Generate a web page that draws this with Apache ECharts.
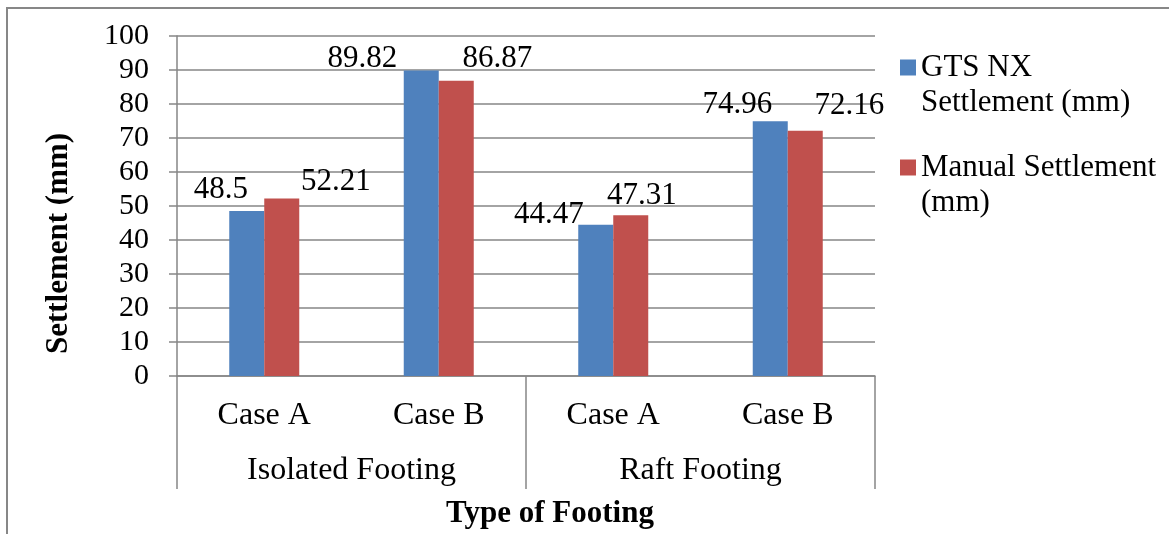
<!DOCTYPE html>
<html>
<head>
<meta charset="utf-8">
<script src="https://cdn.jsdelivr.net/npm/echarts@6/dist/echarts.min.js"></script>
<style>
html,body{margin:0;padding:0;background:#fff;}
#chart{width:1169px;height:534px;}
</style>
</head>
<body>
<div id="chart"></div>
<script>
// ---- data ----
const cases = ['Case A', 'Case B', 'Case A', 'Case B'];
const groups = ['Isolated Footing', 'Raft Footing'];
const seriesNames = ['GTS NX\nSettlement (mm)', 'Manual Settlement\n(mm)'];
const gtsValues = [48.5, 89.82, 44.47, 74.96];
const manualValues = [52.21, 86.87, 47.31, 72.16];
const yTicks = { min: 0, max: 100, interval: 10 };

// ---- style / layout ----
const FONT = '"Liberation Serif", "Times New Roman", serif';
const GRID_COLOR = '#868686';
const COLORS = ['#4F81BD', '#C0504D'];
// manual label placements (as in the source chart)
const gtsLabelOffsets = [[-26, -6], [-59, 3], [-47, 5], [-33, -1]];
const manualLabelOffsets = [[54, -2], [41, -7], [11, -4], [44, -10]];

function buildData(values, offsets) {
  return values.map((v, i) => ({
    value: v,
    label: { offset: offsets[i] }
  }));
}

const labelStyle = {
  show: true,
  position: 'top',
  distance: 0,
  fontFamily: FONT,
  fontSize: 31,
  lineHeight: 30,
  color: '#000'
};

const chart = echarts.init(document.getElementById('chart'), null, { renderer: 'canvas' });
chart.setOption({
  backgroundColor: '#fff',
  animation: false,
  textStyle: { fontFamily: FONT },
  graphic: [{
    type: 'rect',
    shape: { x: 7, y: 8, width: 1300, height: 700 },
    style: { fill: 'none', stroke: '#878787', lineWidth: 2 },
    z: -1
  }],
  grid: { left: 177, right: 294, top: 36, bottom: 151, containLabel: false },
  legend: {
    orient: 'vertical',
    left: 900,
    top: 15,
    padding: 0,
    itemWidth: 16,
    itemHeight: 16,
    itemGap: -5,
    icon: 'rect',
    formatter: name => '\n' + name,
    textStyle: {
      fontFamily: FONT,
      fontSize: 31,
      lineHeight: 35,
      color: '#000'
    },
    data: seriesNames
  },
  xAxis: [{
    type: 'category',
    data: cases,
    position: 'bottom',
    axisLine: { show: true, lineStyle: { color: GRID_COLOR, width: 1.5 } },
    axisTick: { show: false },
    axisLabel: { fontFamily: FONT, fontSize: 32, color: '#000', margin: 24 },
    splitLine: { show: false }
  }, {
    type: 'category',
    data: groups,
    position: 'bottom',
    axisLine: { show: false },
    axisTick: { show: true, length: 113, lineStyle: { color: GRID_COLOR, width: 1.5 } },
    axisLabel: { fontFamily: FONT, fontSize: 32, color: '#000', margin: 79 },
    name: 'Type of Footing',
    nameLocation: 'middle',
    nameGap: 122,
    nameTextStyle: { fontFamily: FONT, fontSize: 31, fontWeight: 'bold', color: '#000', padding: [0, 0, 0, 48] }
  }],
  yAxis: {
    type: 'value',
    min: yTicks.min,
    max: yTicks.max,
    interval: yTicks.interval,
    axisLine: { show: true, lineStyle: { color: GRID_COLOR, width: 1.5 } },
    axisTick: { show: true, length: 8, lineStyle: { color: GRID_COLOR, width: 1.5 } },
    axisLabel: { fontFamily: FONT, fontSize: 30, color: '#000', margin: 28 },
    splitLine: { show: true, lineStyle: { color: GRID_COLOR, width: 1.5 } },
    name: 'Settlement (mm)',
    nameLocation: 'middle',
    nameRotate: 90,
    nameGap: 103,
    nameTextStyle: { fontFamily: FONT, fontSize: 31, fontWeight: 'bold', color: '#000', padding: [0, 75, 0, 0] }
  },
  series: [{
    name: seriesNames[0],
    type: 'bar',
    data: buildData(gtsValues, gtsLabelOffsets),
    itemStyle: { color: COLORS[0] },
    barWidth: 35,
    barGap: '0%',
    label: labelStyle
  }, {
    name: seriesNames[1],
    type: 'bar',
    data: buildData(manualValues, manualLabelOffsets),
    itemStyle: { color: COLORS[1] },
    barWidth: 35,
    barGap: '0%',
    label: labelStyle
  }]
});
</script>
</body>
</html>
